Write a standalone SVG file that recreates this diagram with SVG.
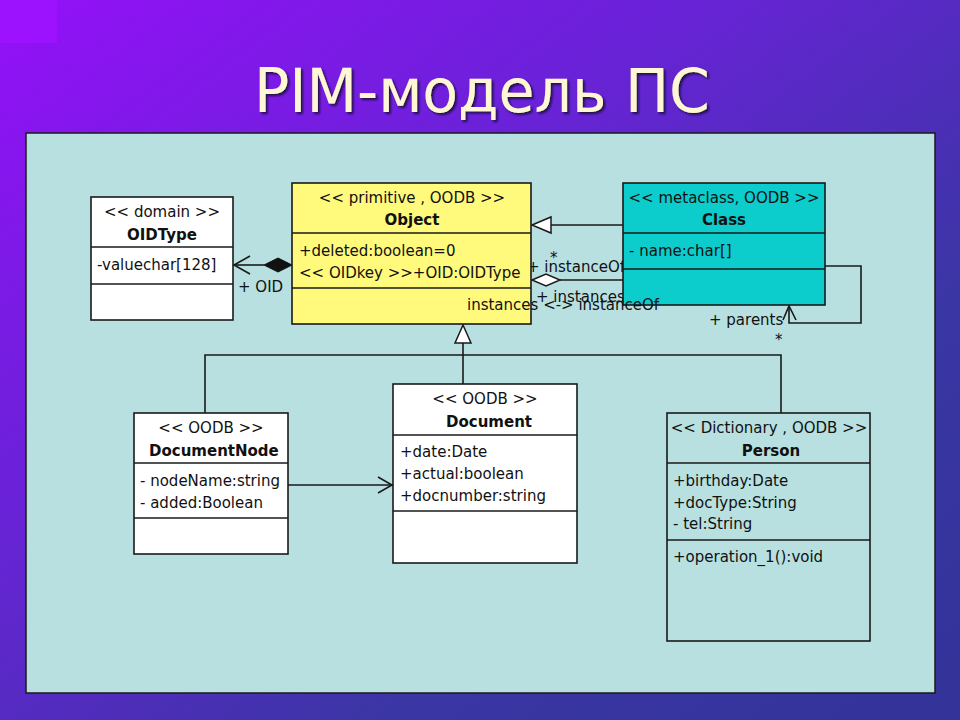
<svg xmlns="http://www.w3.org/2000/svg" width="960" height="720" viewBox="0 0 960 720">
<defs>
<linearGradient id="bg" x1="0" y1="0" x2="1" y2="1">
<stop offset="0" stop-color="#9410f8"/>
<stop offset="0.35" stop-color="#6a22d8"/>
<stop offset="0.7" stop-color="#3a36a4"/>
<stop offset="1" stop-color="#333399"/>
</linearGradient>
<filter id="shadow" x="-5%" y="-20%" width="110%" height="140%">
<feDropShadow dx="2" dy="2" stdDeviation="0.8" flood-color="#140a3a" flood-opacity="0.9"/>
</filter>
<style>
text{font-family:"DejaVu Sans","Liberation Sans",sans-serif;font-size:15px;fill:#111}
.c{text-anchor:middle}
.b{font-weight:bold}
.box{stroke:#1a1a1a;stroke-width:1.6}
.ln{stroke:#1a1a1a;stroke-width:1.6;fill:none}
.title{font-size:60px;fill:#fff6d6;text-anchor:middle}
</style>
</defs>
<rect width="960" height="720" fill="url(#bg)"/>
<rect x="0" y="0" width="57" height="43" fill="#9c12ff"/>
<text class="title" x="482" y="112" textLength="456" lengthAdjust="spacingAndGlyphs" font-stretch="condensed" filter="url(#shadow)">PIM-модель ПС</text>
<rect x="26" y="133" width="909" height="560" fill="#b8e0e0" stroke="#1a1a1a" stroke-width="1.5"/>

<g id="connectors">
<line class="ln" x1="233" y1="265" x2="264" y2="265"/>
<polyline class="ln" points="250,256 234,265 250,274"/>
<polygon points="264,265 278,258 292,265 278,272" fill="#111" stroke="#111" stroke-width="1"/>
<text x="238" y="292">+ OID</text>
<line class="ln" x1="551" y1="225" x2="623" y2="225"/>
<polygon points="532,225 551,217 551,233" fill="#fff" stroke="#1a1a1a" stroke-width="1.5"/>
<line class="ln" x1="560" y1="280" x2="623" y2="280"/>
<polygon points="532,280 546,274 560,280 546,286" fill="#fff" stroke="#1a1a1a" stroke-width="1.5"/>
<text x="550" y="263">*</text>
<text x="527" y="272">+ instanceOf</text>
<text x="536" y="302">+ instances</text>
<polyline class="ln" points="825,266 861,266 861,323 789,323 789,307"/>
<polyline class="ln" points="783,320 789,306 796,320"/>
<text x="709" y="325">+ parents</text>
<text x="775" y="345">*</text>
<polygon points="463,325 455,343 471,343" fill="#fff" stroke="#1a1a1a" stroke-width="1.5"/>
<line class="ln" x1="463" y1="343" x2="463" y2="384"/>
<polyline class="ln" points="205,413 205,355 781,355 781,413"/>
<line class="ln" x1="288" y1="485" x2="393" y2="485"/>
<polyline class="ln" points="378,477 392,485 378,493"/>
</g>

<g id="OIDType">
<rect class="box" x="91" y="197" width="142" height="123" fill="#fff"/>
<line class="ln" x1="91" y1="247" x2="233" y2="247"/>
<line class="ln" x1="91" y1="284" x2="233" y2="284"/>
<text class="c" x="162" y="217">&lt;&lt; domain &gt;&gt;</text>
<text class="c b" x="162" y="240">OIDType</text>
<text x="97" y="270">-valuechar[128]</text>
</g>

<g id="Object">
<rect class="box" x="292" y="183" width="239" height="141" fill="#fffa7c"/>
<line class="ln" x1="292" y1="233" x2="531" y2="233"/>
<line class="ln" x1="292" y1="288" x2="531" y2="288"/>
<text class="c" x="412" y="203">&lt;&lt; primitive , OODB &gt;&gt;</text>
<text class="c b" x="412" y="225">Object</text>
<text x="299" y="256">+deleted:boolean=0</text>
<text x="299" y="278">&lt;&lt; OIDkey &gt;&gt;+OID:OIDType</text>
</g>

<g id="Class">
<rect class="box" x="623" y="183" width="202" height="122" fill="#0ccccc"/>
<line class="ln" x1="623" y1="233" x2="825" y2="233"/>
<line class="ln" x1="623" y1="269" x2="825" y2="269"/>
<text class="c" x="724" y="203">&lt;&lt; metaclass, OODB &gt;&gt;</text>
<text class="c b" x="724" y="225">Class</text>
<text x="629" y="256">- name:char[]</text>
</g>

<text x="467" y="310">instances &lt;-&gt; instanceOf</text>

<g id="DocumentNode">
<rect class="box" x="134" y="413" width="154" height="141" fill="#fff"/>
<line class="ln" x1="134" y1="463" x2="288" y2="463"/>
<line class="ln" x1="134" y1="518" x2="288" y2="518"/>
<text class="c" x="211" y="433">&lt;&lt; OODB &gt;&gt;</text>
<text class="b" x="149" y="456">DocumentNode</text>
<text x="140" y="486">- nodeName:string</text>
<text x="140" y="508">- added:Boolean</text>
</g>

<g id="Document">
<rect class="box" x="393" y="384" width="184" height="179" fill="#fff"/>
<line class="ln" x1="393" y1="435" x2="577" y2="435"/>
<line class="ln" x1="393" y1="511" x2="577" y2="511"/>
<text class="c" x="485" y="404">&lt;&lt; OODB &gt;&gt;</text>
<text class="c b" x="489" y="427">Document</text>
<text x="400" y="457">+date:Date</text>
<text x="400" y="479">+actual:boolean</text>
<text x="400" y="501">+docnumber:string</text>
</g>

<g id="Person">
<rect class="box" x="667" y="413" width="203" height="228" fill="#b8e0e0"/>
<line class="ln" x1="667" y1="463" x2="870" y2="463"/>
<line class="ln" x1="667" y1="540" x2="870" y2="540"/>
<text class="c" x="769" y="433">&lt;&lt; Dictionary , OODB &gt;&gt;</text>
<text class="c b" x="771" y="456">Person</text>
<text x="673" y="486">+birthday:Date</text>
<text x="673" y="508">+docType:String</text>
<text x="673" y="529">- tel:String</text>
<text x="673" y="562">+operation_1():void</text>
</g>
</svg>
